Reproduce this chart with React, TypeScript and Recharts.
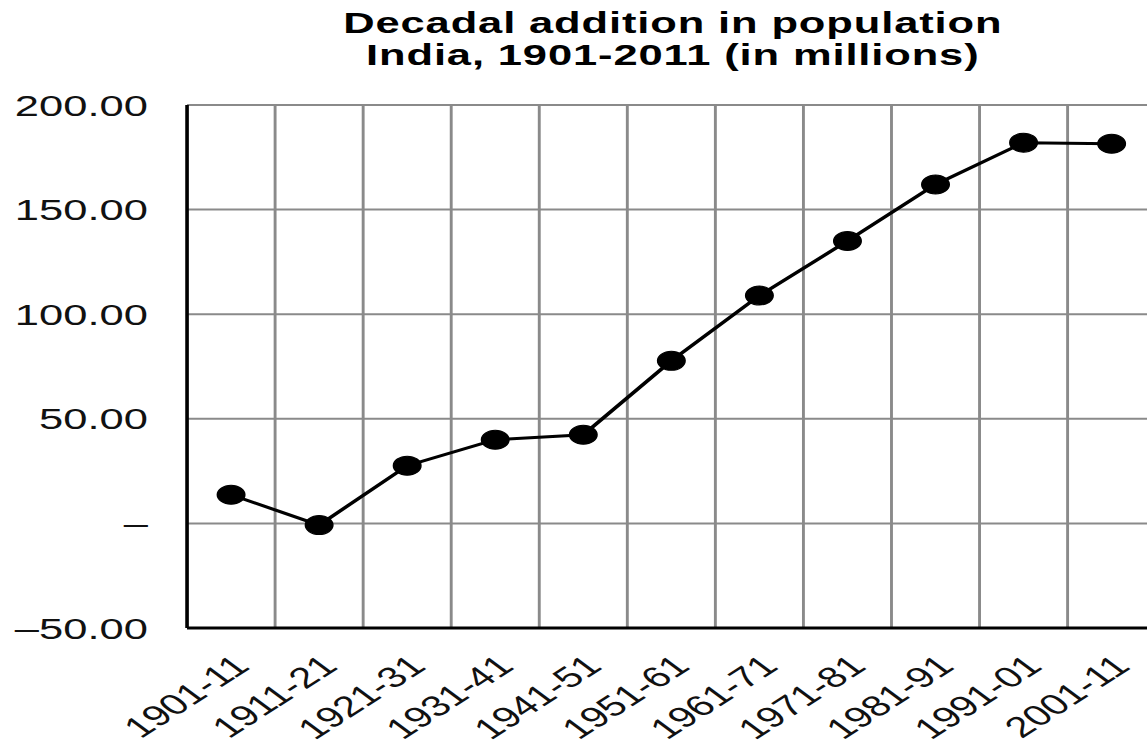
import React from 'react';
import { LineChart, Line, XAxis, YAxis, CartesianGrid, ReferenceLine } from 'recharts';

// Census decades and the population added in each (millions)
const periods = [
  '1901-11', '1911-21', '1921-31', '1931-41', '1941-51', '1951-61',
  '1961-71', '1971-81', '1981-91', '1991-01', '2001-11',
];
const additions = [13.7, -0.8, 27.6, 40.0, 42.4, 77.7, 108.9, 135.0, 162.0, 182.0, 181.5];

const yTicks = [-50, 0, 50, 100, 150, 200];
const titleLines = ['Decadal addition in population', 'India, 1901-2011 (in millions)'];

// Each decade sits in its own cell; grid lines run along the cell edges.
const cellEdges = periods.map((_, i) => i).concat([periods.length]);
const cellCentres = periods.map((_, i) => i + 0.5);

const rows = periods.map((period, i) => ({ period, pos: cellCentres[i], addition: additions[i] }));

const STRETCH = 1.45;
const FONT = '"Liberation Sans", Arial, Helvetica, sans-serif';
const GRID = '#8a8a8a';

const formatY = (v: number) => {
  if (v === 0) return '\u2013';
  if (v < 0) return '\u2013' + Math.abs(v).toFixed(2);
  return v.toFixed(2);
};

const formatPeriod = (v: number) => periods[Math.floor(v)] ?? '';

export default function App() {
  return (
    <div
      style={{
        position: 'absolute',
        left: 0,
        top: 0,
        width: 1147,
        height: 748,
        overflow: 'hidden',
        background: '#fff',
        fontFamily: FONT,
      }}
    >
      <div
        style={{
          position: 'relative',
          width: 800,
          height: 748,
          transform: `scaleX(${STRETCH})`,
          transformOrigin: '0 0',
        }}
      >
        <LineChart
          width={800}
          height={748}
          data={rows}
          margin={{ top: 105, right: 3, bottom: 0, left: 0 }}
        >
          <CartesianGrid vertical={false} stroke={GRID} strokeWidth={2} />
          <XAxis
            xAxisId="edges"
            orientation="top"
            type="number"
            dataKey="pos"
            domain={[0, periods.length]}
            ticks={cellEdges}
            interval={0}
            height={0}
            tick={false}
            tickLine={false}
            axisLine={{ stroke: '#222', strokeWidth: 2 }}
          />
          <XAxis
            xAxisId="labels"
            type="number"
            dataKey="pos"
            domain={[0, periods.length]}
            ticks={cellCentres}
            interval={0}
            tickFormatter={formatPeriod}
            angle={-43}
            textAnchor="end"
            height={120}
            tickLine={false}
            tickSize={0}
            tickMargin={25}
            axisLine={{ stroke: '#000', strokeWidth: 3 }}
            tick={{ fill: '#111', fontSize: 29, fontFamily: FONT }}
          />
          <YAxis
            type="number"
            domain={[-50, 200]}
            ticks={yTicks}
            interval={0}
            width={129}
            tickFormatter={formatY}
            tickLine={false}
            tickSize={0}
            tickMargin={27}
            axisLine={{ stroke: '#000', strokeWidth: 2.5 }}
            tick={{ fill: '#111', fontSize: 30, fontFamily: FONT }}
          />
          {cellEdges.slice(1).map((edge) => (
            <ReferenceLine
              key={edge}
              xAxisId="edges"
              x={edge}
              stroke={GRID}
              strokeWidth={2}
            />
          ))}
          <Line
            xAxisId="labels"
            type="linear"
            dataKey="addition"
            stroke="#000"
            strokeWidth={3}
            dot={{ r: 9.5, fill: '#000', stroke: '#000', strokeWidth: 1 }}
            activeDot={false}
            isAnimationActive={false}
          />
        </LineChart>
        <svg
          width={800}
          height={100}
          style={{ position: 'absolute', left: 0, top: 0, pointerEvents: 'none' }}
        >
          {titleLines.map((line, i) => (
            <text
              key={line}
              x={464}
              y={33 + i * 32}
              textAnchor="middle"
              fontSize={30}
              fontWeight="bold"
              letterSpacing={0.6}
              fill="#000"
              fontFamily={FONT}
            >
              {line}
            </text>
          ))}
        </svg>
      </div>
    </div>
  );
}
